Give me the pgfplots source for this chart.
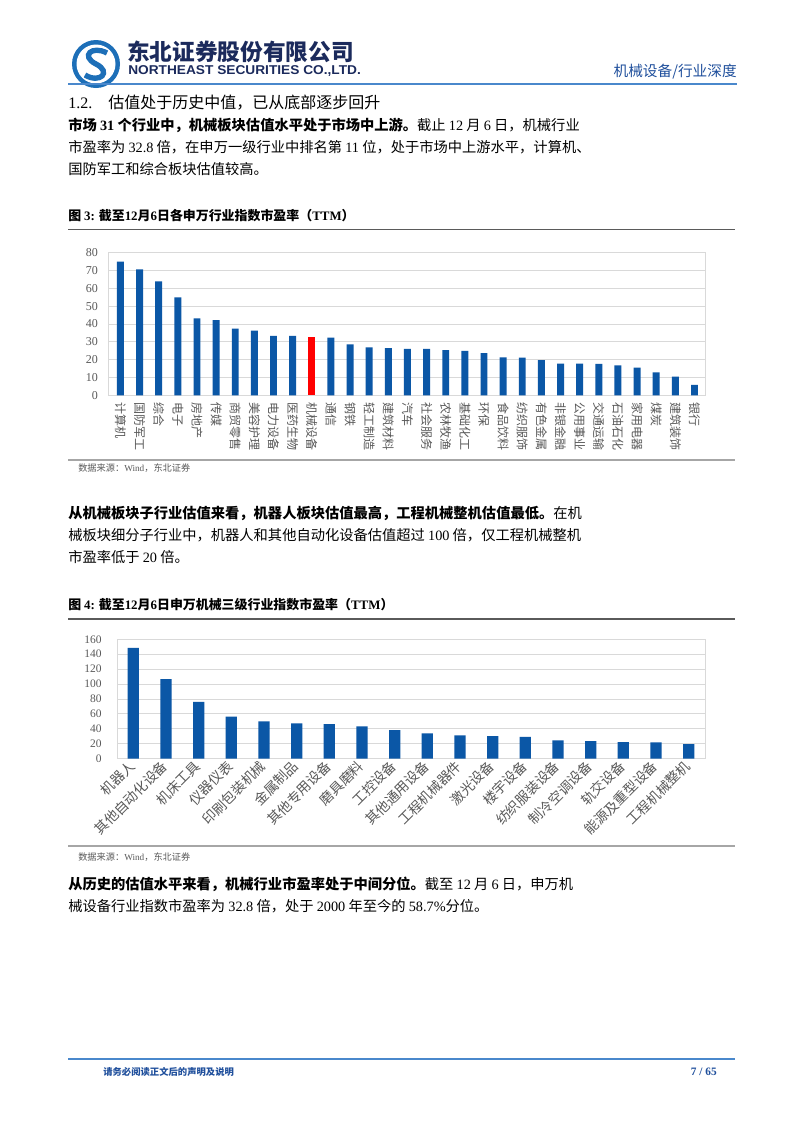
\documentclass[border=0pt]{standalone}
\usepackage{fontspec}
\usepackage{pgfplots}
\pgfplotsset{compat=1.18}
\setmainfont{Noto Sans CJK SC}
\newfontfamily\tm{Liberation Serif}
\newfontfamily\ls{Liberation Sans}

\definecolor{barblue}{HTML}{0B57A6}
\definecolor{navy}{HTML}{1B2A5C}
\definecolor{logoblue}{HTML}{1D6FB8}
\definecolor{hblue}{HTML}{1F4F9C}
\definecolor{hline}{HTML}{4A88CC}
\definecolor{gridgray}{HTML}{D9D9D9}
\definecolor{labgray}{HTML}{595959}
\definecolor{capline}{HTML}{5A5A5A}
\definecolor{srcline}{HTML}{A6A6A6}

% 申万一级行业市盈率(TTM)
\pgfplotstableread{
idx pe
0 75.0
1 70.7
2 63.9
3 55.0
4 43.2
5 42.2
6 37.4
7 36.3
8 33.3
9 33.3
11 32.3
12 28.6
13 26.9
14 26.5
15 26.0
16 26.0
17 25.4
18 24.9
19 23.7
20 21.3
21 21.1
22 19.8
23 17.8
24 17.8
25 17.6
26 16.8
27 15.5
28 12.9
29 10.5
30 5.8
}\swone

% 申万机械三级行业市盈率(TTM)
\pgfplotstableread{
idx pe
0 148.4
1 106.8
2 76.0
3 56.3
4 50.1
5 47.4
6 46.5
7 43.4
8 38.4
9 34.0
10 31.3
11 30.4
12 29.1
13 24.6
14 23.7
15 22.3
16 21.9
17 19.7
}\swthree

\newcommand\body{\fontsize{10.7}{12}\selectfont}

\begin{document}
\begin{tikzpicture}
\begin{scope}[x=0.75pt,y=-0.75pt]
\fill[white] (0,0) rectangle (802,1133);
\useasboundingbox (0,0) rectangle (802,1133);

% header
\fill[logoblue] (96,64) circle (24);
\fill[white] (96,64) circle (19.5);
\draw[logoblue, line width=4pt] (107,53) .. controls (92,45) and (80,56) .. (96,64)
  .. controls (112,72) and (100,84) .. (85,75);
\node[anchor=west, inner sep=0, navy, font=\bfseries\fontsize{17}{17}\selectfont] at (127,52) {东北证券股份有限公司};
\node[anchor=west, inner sep=0, navy, xscale=1.07, font=\ls\bfseries\fontsize{9.6}{9.6}\selectfont] at (128,71.5) {NORTHEAST SECURITIES CO.,LTD.};
\node[anchor=east, inner sep=0, hblue, font=\fontsize{11}{11}\selectfont] at (737,72) {机械设备/行业深度};
\draw[hline, line width=1.1pt] (68,84) -- (737,84);

% section 1.2
\node[anchor=west, inner sep=0, font=\fontsize{12}{12}\selectfont] at (68,103) {{\tm 1.2.}\hspace{12pt}估值处于历史中值，已从底部逐步回升};
\node[anchor=west, inner sep=0, font=\body] at (68,125) {\textbf{市场 {\tm 31} 个行业中，机械板块估值水平处于市场中上游。}截止 {\tm 12} 月 {\tm 6} 日，机械行业};
\node[anchor=west, inner sep=0, font=\body] at (68,147) {市盈率为 {\tm 32.8} 倍，在申万一级行业中排名第 {\tm 11} 位，处于市场中上游水平，计算机、};
\node[anchor=west, inner sep=0, font=\body] at (68,169) {国防军工和综合板块估值较高。};

% figure 3 caption
\node[anchor=west, inner sep=0, font=\bfseries\fontsize{9.7}{10}\selectfont] at (68,216) {图 {\tm\bfseries 3:} 截至{\tm\bfseries 12}月{\tm\bfseries 6}日各申万行业指数市盈率（{\tm\bfseries TTM}）};
\draw[capline, line width=1.3pt] (68,229.5) -- (735,229.5);
\draw[srcline, line width=1.4pt] (68,460) -- (735,460);
\node[anchor=west, inner sep=0, labgray, font=\fontsize{6.9}{7}\selectfont] at (78,468) {数据来源：{\tm Wind}，东北证券};

% paragraph 2
\node[anchor=west, inner sep=0, font=\body] at (68,513.5) {\textbf{从机械板块子行业估值来看，机器人板块估值最高，工程机械整机估值最低。}在机};
\node[anchor=west, inner sep=0, font=\body] at (68,535.5) {械板块细分子行业中，机器人和其他自动化设备估值超过 {\tm 100} 倍，仅工程机械整机};
\node[anchor=west, inner sep=0, font=\body] at (68,557.5) {市盈率低于 {\tm 20} 倍。};

% figure 4 caption
\node[anchor=west, inner sep=0, font=\bfseries\fontsize{9.7}{10}\selectfont] at (68,605) {图 {\tm\bfseries 4:} 截至{\tm\bfseries 12}月{\tm\bfseries 6}日申万机械三级行业指数市盈率（{\tm\bfseries TTM}）};
\draw[capline, line width=1.3pt] (68,619) -- (735,619);
\draw[srcline, line width=1.4pt] (68,846) -- (735,846);
\node[anchor=west, inner sep=0, labgray, font=\fontsize{6.9}{7}\selectfont] at (78,857) {数据来源：{\tm Wind}，东北证券};

% paragraph 3
\node[anchor=west, inner sep=0, font=\body] at (68,884) {\textbf{从历史的估值水平来看，机械行业市盈率处于中间分位。}截至 {\tm 12} 月 {\tm 6} 日，申万机};
\node[anchor=west, inner sep=0, font=\body] at (68,906) {械设备行业指数市盈率为 {\tm 32.8} 倍，处于 {\tm 2000} 年至今的 {\tm 58.7\%}分位。};

% footer
\draw[hline, line width=1.1pt] (68,1059) -- (735,1059);
\node[anchor=west, inner sep=0, hblue, font=\bfseries\fontsize{7}{7}\selectfont] at (103,1072) {请务必阅读正文后的声明及说明};
\node[anchor=east, inner sep=0, hblue, font=\tm\bfseries\fontsize{8.5}{8.5}\selectfont] at (717,1072) {7 / 65};
\end{scope}

% chart 3
\begin{axis}[
  at={({108*0.75pt},{-395.3*0.75pt})}, anchor=south west,
  scale only axis, width=447.75pt, height=106.95pt,
  ymin=0, ymax=80, ytick={0,10,...,80},
  xmin=-0.65, xmax=30.55,
  xtick={0,...,30},
  xticklabels={计算机,国防军工,综合,电子,房地产,传媒,商贸零售,美容护理,电力设备,医药生物,机械设备,通信,钢铁,轻工制造,建筑材料,汽车,社会服务,农林牧渔,基础化工,环保,食品饮料,纺织服饰,有色金属,非银金融,公用事业,交通运输,石油石化,家用电器,煤炭,建筑装饰,银行},
  ybar, bar width=5.2pt, bar shift=0pt,
  ymajorgrids, grid style={gridgray, line width=0.7pt},
  axis line style={gridgray, line width=0.7pt},
  major tick length=0pt,
  xticklabel style={rotate=-90, anchor=west, inner sep=1pt, labgray, font=\fontsize{9}{9}\selectfont},
  xticklabel shift=4pt,
  yticklabel style={labgray, font=\tm\fontsize{9}{9}\selectfont, /pgf/number format/assume math mode=true},
  yticklabel shift=4pt,
]
\addplot[fill=barblue, draw=none] table[x=idx, y=pe] {\swone};
\addplot[fill=red, draw=none] coordinates {(10,32.8)};
\end{axis}

% chart 4
\begin{axis}[
  at={({117*0.75pt},{-758.7*0.75pt})}, anchor=south west,
  scale only axis, width=441pt, height=89.55pt,
  ymin=0, ymax=160, ytick={0,20,...,160},
  xmin=-0.5, xmax=17.5,
  xtick={0,...,17},
  xticklabels={机器人,其他自动化设备,机床工具,仪器仪表,印刷包装机械,金属制品,其他专用设备,磨具磨料,工控设备,其他通用设备,工程机械器件,激光设备,楼宇设备,纺织服装设备,制冷空调设备,轨交设备,能源及重型设备,工程机械整机},
  ybar, bar width=8.4pt, bar shift=0pt,
  ymajorgrids, grid style={gridgray, line width=0.7pt},
  axis line style={gridgray, line width=0.7pt},
  major tick length=0pt,
  xticklabel style={rotate=45, anchor=east, inner sep=1pt, labgray, font=\fontsize{10.3}{10.3}\selectfont},
  xticklabel shift=3pt,
  yticklabel style={labgray, font=\tm\fontsize{8.6}{8.6}\selectfont, /pgf/number format/assume math mode=true},
  yticklabel shift=8pt,
]
\addplot[fill=barblue, draw=none] table[x=idx, y=pe] {\swthree};
\end{axis}
\end{tikzpicture}
\end{document}
